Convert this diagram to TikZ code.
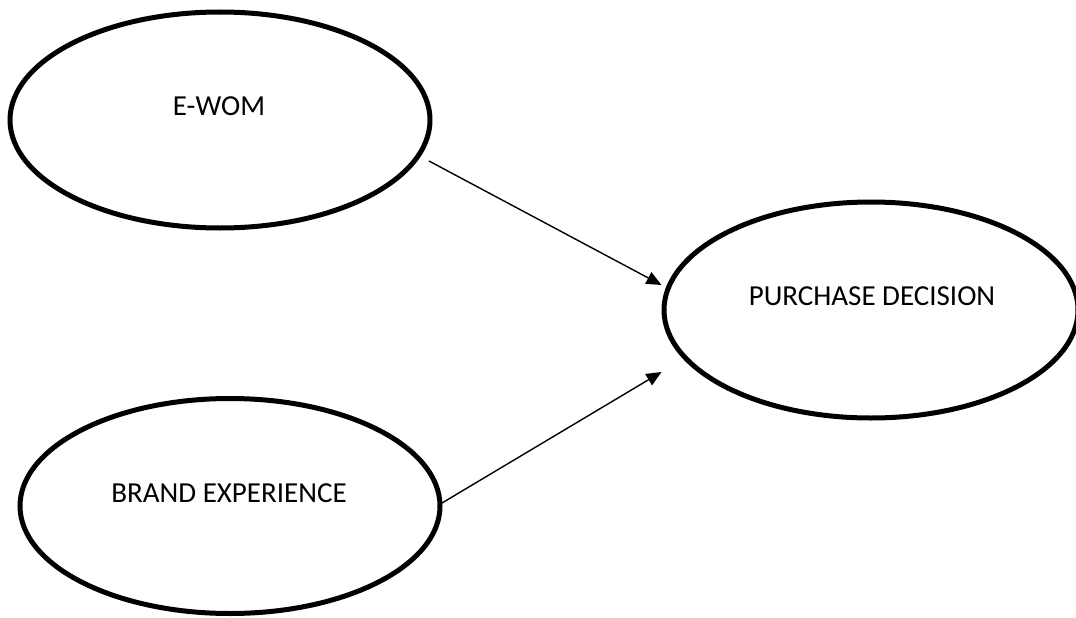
\documentclass[tikz,border=0pt]{standalone}
\usepackage{fontspec}
\setmainfont{Carlito}
\usetikzlibrary{shapes.geometric,arrows.meta,calc}
\begin{document}
\begin{tikzpicture}[x=1pt,y=-1pt,
  oval/.style={draw=black,line width=5pt,ellipse,inner sep=0pt},
  lbl/.style={anchor=base,inner sep=0pt,font=\fontsize{29}{33}\selectfont},
  arr/.style={line width=1.4pt,-{Triangle[length=15pt,width=13pt]}}]
\useasboundingbox (0,0) rectangle (1076,618);
\node[oval,minimum width=420pt,minimum height=216pt] (ewom) at (220,120) {};
\node[oval,minimum width=414pt,minimum height=216pt] (pd) at (871,310) {};
\node[oval,minimum width=420pt,minimum height=215pt] (be) at (230,506) {};
\node[lbl] (tewom) at (219,115) {E-WOM};
\node[lbl] (tpd) at (872,305) {PURCHASE DECISION};
\node[lbl] (tbe) at (229,502) {BRAND EXPERIENCE};
\draw[arr] ($(ewom.center)+(209,41)$) -- ($(pd.west)+(0,-25)$);
\draw[arr] ($(be.center)+(212,-3)$) -- ($(pd.west)+(0,62)$);
\end{tikzpicture}
\end{document}
